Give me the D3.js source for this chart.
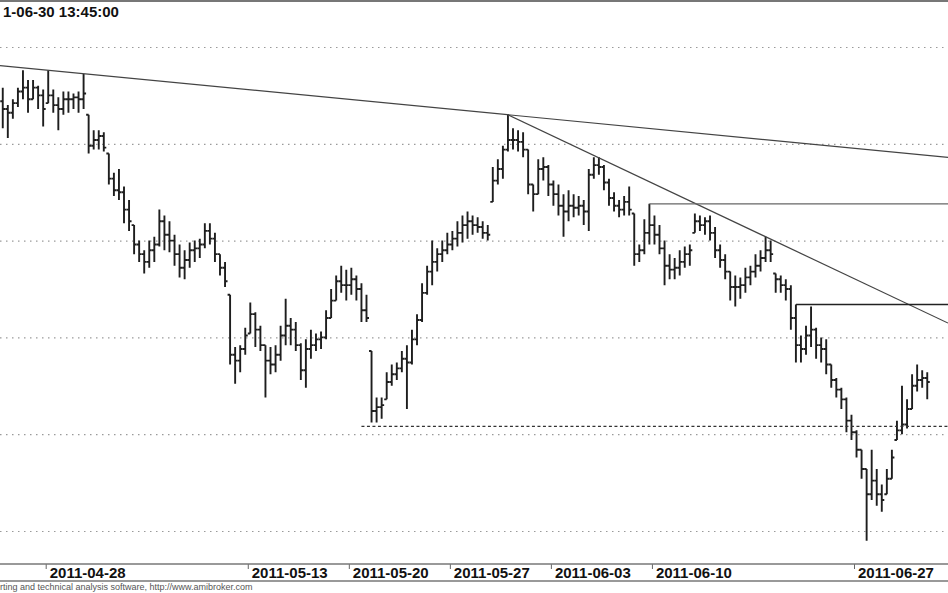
<!DOCTYPE html>
<html lang="en">
<head>
<meta charset="UTF-8">
<title>Intraday bar chart</title>
<script src="https://d3js.org/d3.v7.min.js"></script>
<style>
    body { margin: 0; background: #fff; }
    .dates { font-family: "Liberation Sans", Arial, sans-serif; font-size: 15px; font-weight: bold; fill: #111; }
    .stamp { font-family: "Liberation Sans", Arial, sans-serif; font-size: 15px; font-weight: bold; fill: #111; }
    .footer { font-family: "Liberation Sans", Arial, sans-serif; font-size: 9px; fill: #555; }
</style>
</head>
<body>
<svg id="main" width="948" height="593"></svg>
<script>
    // trading days on the chart (Warsaw session, 4 bars a day)
    const days = ['2011-04-21','2011-04-26','2011-04-27','2011-04-28','2011-04-29','2011-05-02','2011-05-04',
        '2011-05-05','2011-05-06','2011-05-09','2011-05-10','2011-05-11','2011-05-12','2011-05-13','2011-05-16',
        '2011-05-17','2011-05-18','2011-05-19','2011-05-20','2011-05-23','2011-05-24','2011-05-25','2011-05-26',
        '2011-05-27','2011-05-30','2011-05-31','2011-06-01','2011-06-02','2011-06-03','2011-06-06','2011-06-07',
        '2011-06-08','2011-06-09','2011-06-10','2011-06-13','2011-06-14','2011-06-15','2011-06-16','2011-06-17',
        '2011-06-20','2011-06-21','2011-06-22','2011-06-24','2011-06-27','2011-06-28','2011-06-29','2011-06-30'];
    const dateLabels = ['2011-04-28','2011-05-13','2011-05-20','2011-05-27','2011-06-03','2011-06-10','2011-06-27'];
    const barsPerDay = 4;
    const firstSlot = 3;      // first visible bar is the last one of 2011-04-21
    const firstOpen = 2872;

    const high = [2879,
        2870,2873,2879,2888, 2883,2883,2880,2878, 2888,2878,2874,2877, 2877,2876,2877,2886,
        2865,2857,2857,2856, 2845,2835,2837,2828, 2821,2808,2800,2795, 2800,2802,2816,2813,
        2810,2803,2798,2795, 2799,2800,2801,2809, 2809,2804,2793,2789, 2772,2745,2746,2755,
        2768,2763,2756,2746, 2745,2746,2756,2770, 2760,2758,2747,2749, 2754,2752,2753,2764,
        2775,2782,2787,2785, 2786,2782,2778,2772, 2743,2719,2719,2732, 2736,2737,2743,2746,
        2754,2762,2778,2787, 2800,2796,2800,2804, 2805,2810,2813,2815, 2813,2812,2810,2808,
        2838,2842,2849,2865, 2858,2857,2856,2847, 2829,2842,2843,2839, 2831,2829,2824,2826,
        2824,2823,2821,2837, 2843,2843,2839,2832, 2825,2821,2823,2828, 2814,2798,2811,2819,
        2813,2808,2800,2793, 2791,2795,2797,2798, 2814,2813,2812,2813, 2807,2798,2793,2784,
        2782,2781,2786,2787, 2793,2795,2802,2800, 2783,2782,2780,2777, 2767,2751,2756,2766,
        2755,2750,2749,2736, 2729,2724,2719,2710, 2702,2692,2682,2692, 2682,2674,2682,2692,
        2707,2725,2718,2731, 2736,2733,2732];
    const low = [2858,
        2853,2863,2869,2873, 2866,2873,2868,2859, 2871,2866,2857,2865, 2866,2868,2866,2868,
        2845,2847,2847,2846, 2829,2823,2821,2809, 2805,2793,2789,2783, 2786,2789,2797,2795,
        2794,2787,2781,2780, 2786,2789,2791,2796, 2798,2789,2782,2776, 2736,2726,2732,2741,
        2752,2745,2743,2719, 2731,2732,2738,2746, 2746,2743,2728,2724, 2739,2743,2744,2749,
        2760,2769,2773,2769, 2772,2769,2758,2758, 2706,2706,2708,2718, 2725,2728,2732,2713,
        2736,2746,2758,2772, 2777,2784,2789,2793, 2795,2797,2799,2801, 2803,2804,2801,2800,
        2820,2829,2832,2846, 2847,2846,2843,2824, 2815,2824,2831,2823, 2818,2813,2802,2810,
        2812,2813,2808,2805, 2832,2834,2826,2818, 2815,2812,2813,2813, 2787,2789,2793,2798,
        2798,2793,2777,2780, 2780,2782,2786,2787, 2804,2805,2803,2800, 2791,2786,2780,2769,
        2766,2770,2773,2777, 2781,2784,2789,2789, 2773,2773,2769,2754, 2737,2737,2741,2745,
        2739,2737,2731,2724, 2719,2713,2701,2697, 2688,2677,2645,2666, 2663,2660,2669,2677,
        2697,2700,2703,2713, 2722,2724,2718];
    const close = [2868,
        2866,2871,2877,2879, 2873,2879,2875,2868, 2875,2870,2868,2873, 2873,2874,2873,2876,
        2849,2852,2854,2848, 2832,2826,2825,2816, 2810,2798,2793,2789, 2795,2798,2810,2803,
        2800,2793,2786,2790, 2795,2796,2798,2805, 2801,2793,2786,2779, 2741,2738,2744,2751,
        2762,2754,2746,2738, 2736,2741,2751,2756, 2754,2746,2733,2744, 2746,2749,2750,2760,
        2769,2779,2777,2777, 2780,2775,2764,2760, 2712,2714,2715,2727, 2731,2734,2739,2737,
        2749,2759,2773,2784, 2789,2793,2795,2798, 2801,2804,2808,2810, 2808,2807,2804,2803,
        2831,2837,2847,2852, 2852,2851,2847,2829, 2824,2837,2838,2829, 2824,2818,2815,2818,
        2817,2818,2815,2834, 2839,2838,2830,2822, 2818,2816,2820,2816, 2793,2795,2804,2808,
        2803,2796,2787,2785, 2786,2789,2793,2795, 2810,2808,2810,2804, 2795,2790,2784,2776,
        2776,2777,2781,2784, 2787,2791,2795,2793, 2780,2777,2775,2760, 2746,2744,2751,2754,
        2746,2744,2736,2728, 2723,2718,2707,2701, 2692,2682,2669,2676, 2669,2666,2677,2688,
        2702,2705,2713,2725, 2728,2729,2727];

    const gridLevels = [2900, 2850, 2800, 2750, 2700, 2650];
    // [day, bar slot, price]
    const trendLines = [
        {a: ['2011-04-28', 0, 2888], b: ['2011-05-31', 3, 2865], left: true},
        {a: ['2011-05-31', 3, 2865], b: ['2011-06-17', 2, 2802], left: false}
    ];
    const levels = [
        {at: ['2011-06-09', 3, 2819], color: '#666', width: 1.3, dash: null},
        {at: ['2011-06-21', 0, 2767], color: '#222', width: 1.7, dash: null},
        {at: ['2011-05-20', 2, 2704], color: '#333', width: 1.2, dash: '3,2.5'}
    ];

    const W = 948, H = 593, axisY = 564;
    let svg = d3.select('svg#main');

    let xScale = d3.scaleLinear().domain([3, 43]).range([45.7, 854]);
    let yScale = d3.scaleLinear().domain([2900, 2650]).range([47, 531]);
    let pos = (day, slot) => days.indexOf(day) + (slot + 0.5) / barsPerDay;

    // dotted grid
    let grid = svg.append('g')
        .call(d3.axisRight(yScale).tickValues(gridLevels).tickSize(W).tickFormat(''));
    grid.select('.domain').remove();
    grid.selectAll('line').attr('stroke', '#9a9a9a').attr('stroke-width', 1.2).attr('stroke-dasharray', '1.5,4.5');

    // top border
    svg.append('line').attr('x1', 0).attr('x2', W).attr('y1', 1).attr('y2', 1)
        .attr('stroke', '#777').attr('stroke-width', 2);

    // bars
    let bars = high.map(function (h, i) {
        let k = i + firstSlot;
        let day = Math.floor(k / barsPerDay), slot = k % barsPerDay;
        let prev = i === 0 ? firstOpen : close[i - 1];
        let o = Math.max(low[i], Math.min(h, prev));
        return {t: day + (slot + 0.5) / barsPerDay, h: h, l: low[i], o: o, c: close[i]};
    });
    svg.append('g')
        .selectAll('path')
        .data(bars)
        .join('path')
        .attr('fill', 'none')
        .attr('stroke', '#1e1e1e')
        .attr('stroke-width', 1.9)
        .attr('d', function (d) {
            let x = xScale(d.t);
            return 'M' + x + ',' + yScale(d.h) + 'V' + yScale(d.l) +
                'M' + (x - 2.5) + ',' + yScale(d.o) + 'H' + x +
                'M' + x + ',' + yScale(d.c) + 'H' + (x + 2.5);
        });

    // trend lines
    trendLines.forEach(function (tl) {
        let x1 = xScale(pos(tl.a[0], tl.a[1])), y1 = yScale(tl.a[2]);
        let x2 = xScale(pos(tl.b[0], tl.b[1])), y2 = yScale(tl.b[2]);
        let k = (y2 - y1) / (x2 - x1);
        let xs = tl.left ? 0 : x1;
        svg.append('line')
            .attr('x1', xs).attr('y1', y1 + k * (xs - x1))
            .attr('x2', W).attr('y2', y1 + k * (W - x1))
            .attr('stroke', '#444').attr('stroke-width', 1.2);
    });

    // horizontal levels
    levels.forEach(function (lv) {
        svg.append('line')
            .attr('x1', xScale(pos(lv.at[0], lv.at[1]))).attr('x2', W)
            .attr('y1', yScale(lv.at[2])).attr('y2', yScale(lv.at[2]))
            .attr('stroke', lv.color).attr('stroke-width', lv.width)
            .attr('stroke-dasharray', lv.dash);
    });

    // date axis
    svg.append('rect').attr('x', 0).attr('y', axisY).attr('width', W).attr('height', H - axisY).attr('fill', '#fff');
    let xAxis = svg.append('g')
        .attr('transform', 'translate(0,' + axisY + ')')
        .call(d3.axisBottom(xScale)
            .tickValues(dateLabels.map(d => days.indexOf(d)))
            .tickSize(5)
            .tickFormat(i => days[i]));
    xAxis.select('.domain').remove();
    xAxis.selectAll('line').attr('stroke', '#666');
    xAxis.selectAll('text')
        .attr('class', 'dates')
        .attr('text-anchor', 'start')
        .attr('x', 3.5).attr('y', 14).attr('dy', 0);
    [axisY, 581].forEach(function (y) {
        svg.append('line').attr('x1', 0).attr('x2', W).attr('y1', y).attr('y2', y)
            .attr('stroke', '#777').attr('stroke-width', 1.6);
    });

    svg.append('text').attr('class', 'stamp').attr('x', 3).attr('y', 17).text('1-06-30 13:45:00');
    svg.append('text').attr('class', 'footer').attr('x', 0).attr('y', 590)
        .text('rting and technical analysis software, http://www.amibroker.com');
</script>
</body>
</html>
